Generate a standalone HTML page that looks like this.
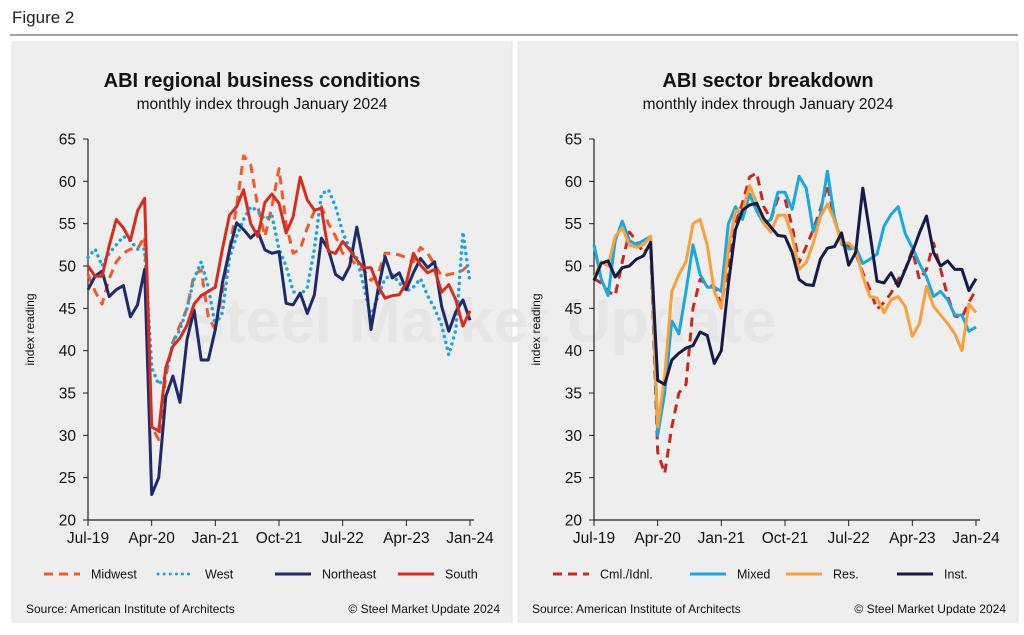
<!DOCTYPE html>
<html><head><meta charset="utf-8">
<style>
html,body{margin:0;padding:0;background:#fff;}
body{width:1024px;height:630px;overflow:hidden;font-family:"Liberation Sans",Arial,sans-serif;}
svg text{font-family:"Liberation Sans",Arial,sans-serif;}
</style></head>
<body>
<svg id="fig" width="1024" height="630" viewBox="0 0 1024 630">
  <text x="12" y="23" font-size="17" fill="#222">Figure 2</text>
  <line x1="10" y1="35" x2="1018" y2="35" stroke="#444" stroke-width="1"/>
  <rect x="12" y="42" width="500" height="580" fill="#eeeeee" stroke="#e4e4e4"/>
  <rect x="518" y="42" width="500" height="580" fill="#eeeeee" stroke="#e4e4e4"/>
  <text x="480" y="342" font-size="62" font-weight="bold" fill="#e6e6e6" text-anchor="middle">Steel Market Update</text>
  <g id="left"></g>
  <g id="right"></g>
</svg>
<script>
const months = ["Jul-19","Apr-20","Jan-21","Oct-21","Jul-22","Apr-23","Jan-24"];
const yTicks = [20,25,30,35,40,45,50,55,60,65];

const midwest = [49,47,45.5,48.5,50.5,51.5,52,52,53.5,31,29.5,37,41,43,45,49,49.5,44,42.5,47,52,57,63,62,57,53.5,57,61.5,55,51.5,52,54.5,56.5,57,55,53.5,51.5,51,50,49.5,48.3,49,51.5,51.5,51.3,51,50.5,52.2,51.5,50.2,48.8,49,49.2,49.5,50.3];
const west = [51,52,50,51.5,52.5,53.5,53,52,52,38,36,37,41,42.5,45,48.5,50.5,47.5,43,44.5,51,53.5,55.5,57,56.5,55.5,56,52,50,47,46.5,47.5,52,58.5,59,57,54,52,51,47.5,44,46.5,48.5,49,48,47,47.5,48.5,46.5,45,43,39.5,42.5,54,48];
const northeast = [47.2,48.8,49.4,46.4,47.2,47.7,44,45.4,49.6,23,25,34.6,37,33.9,41.3,44.8,38.9,38.9,42.5,48,51.9,55.1,54.3,53.3,54.1,51.9,51.5,51.7,45.6,45.4,46.8,44.4,46.6,53.3,51.9,49,48.4,50,54.6,50.3,42.5,47.2,51.1,48.6,49.2,47.2,49.2,50.9,49.8,50.5,45.2,42.3,44.6,46,43.6];
const south = [50,48.8,48.8,52.4,55.5,54.5,53,56.5,58,31,30.5,38,40.5,41.5,43,45.5,46.5,47,47.5,52,56,57,59,55,53.5,57.5,58.5,57.4,53.9,55.8,60.5,57.8,56.6,56.8,51.7,51.5,52.9,51.9,50.7,49.8,49.8,47.6,46.2,46.5,46.6,48,51.5,50.1,49.2,49.6,46.9,47.8,46,42.9,44.7];

const cml = [48.5,48,47,46.5,50.5,54,53,51.5,52.5,28,25.5,31,35,36,45,48.4,47.8,47.5,45.5,50,55,57.5,60.5,61,57,55.5,58,57.9,54.7,50.4,52.3,54.3,56.7,59.6,55.4,53.1,52.3,51.5,49.2,47.2,44.9,45.7,46.8,48.4,49.6,51.9,48.4,49.6,52.7,49.6,46.4,44.1,43.9,45.7,47.2];
const mixed = [52.5,48.5,46.5,53,55.3,53,52.5,53,53.5,30,35,43.5,42,47,52.5,49,47.5,47.5,47,55,57,55.5,58.5,56.5,55,55.5,58.7,58.7,56.7,60.6,59.2,54.1,56,61.2,55.7,52.6,52,52.2,50.3,50.8,51.4,54.7,56.1,57,53.8,52.2,50.3,48.7,46.4,47,46,44.2,44.2,42.3,42.8];
const res = [48.5,50.5,50,53.5,54.5,52.5,52.2,52.5,53.5,31,37,47,49,50.5,55,55.5,52.5,47,45,52,56.5,56.5,59.5,57.5,55,54,56,56,53.5,49.6,50.4,52.7,55.8,57.3,55.4,52.7,52.7,51.9,48.8,46.4,46.2,44.5,46,46.4,45.2,41.7,43.2,47.6,45.2,44.2,43.2,42,40,45.5,44.5];
const inst = [48.3,50.3,50.6,48.7,49.8,50,50.8,51.2,52.8,36.5,36,38.9,39.7,40.3,40.6,42.2,41.8,38.5,40,47.9,54.3,56.6,57.2,57.4,55.6,54.6,53.6,53.5,51.6,48.4,47.8,47.7,50.8,52.1,52.3,53.9,50.1,51.6,59.2,53.9,48.2,48,49.2,47.6,49.6,51.6,53.9,55.9,51.6,50,50.6,49.6,49.6,47.1,48.5];

const NS='http://www.w3.org/2000/svg';
function mk(tag, attrs, parent){const e=document.createElementNS(NS,tag);for(const k in attrs)e.setAttribute(k,attrs[k]);parent.appendChild(e);return e;}

function drawChart(g, x0, title, subtitle, series, legendX){
  const pl=x0+76, pr=x0+458, pt=139, pb=520, n=54;
  const xs=i=>pl+(pr-pl)*i/n;
  const ys=v=>pb-(v-20)/45*(pb-pt);
  const cx=x0+250;
  let t=mk('text',{x:cx,y:87,'font-size':20,'font-weight':'bold','text-anchor':'middle',fill:'#111'},g);
  t.textContent=title;
  
  
  t=mk('text',{x:cx,y:109,'font-size':15.5,'text-anchor':'middle',fill:'#111'},g);
  t.textContent=subtitle;
  
  
  t=mk('text',{x:0,y:0,'font-size':12,'text-anchor':'middle',fill:'#111',transform:`translate(${x0+22},${(pt+pb)/2}) rotate(-90)`},g);
  t.textContent='index reading';
  
  
  const ax=mk('g',{},g);
  
  
  mk('line',{x1:pl,y1:pt,x2:pl,y2:pb,stroke:'#222','stroke-width':1.2},ax);
  mk('line',{x1:pl,y1:pb,x2:pr+4,y2:pb,stroke:'#222','stroke-width':1.2},ax);
  yTicks.forEach(v=>{
    mk('line',{x1:pl-5,y1:ys(v),x2:pl,y2:ys(v),stroke:'#222','stroke-width':1},ax);
    const l=mk('text',{x:pl-12,y:ys(v)+5.5,'font-size':15.5,'text-anchor':'end',fill:'#111'},ax);
    l.textContent=v;
    
    
  });
  months.forEach((m,k)=>{
    const x=xs(k*9);
    mk('line',{x1:x,y1:pb,x2:x,y2:pb+6,stroke:'#222','stroke-width':1},ax);
    const l=mk('text',{x:x,y:pb+23,'font-size':15.5,'text-anchor':'middle',fill:'#111'},ax);
    l.textContent=m;
    
    
  });
  series.forEach(s=>{
    const d=s.data.map((v,i)=>(i?'L':'M')+xs(i).toFixed(1)+','+ys(v).toFixed(1)).join(' ');
    const p=mk('path',{d:d,fill:'none',stroke:s.color,'stroke-width':s.w||3,'stroke-linejoin':'round','stroke-linecap':s.dash==='dot'?'round':'butt'},g);
    if(s.dash==='dash')p.setAttribute('stroke-dasharray','9 6');
    if(s.dash==='dot')p.setAttribute('stroke-dasharray','0.1 6');
    
    
  });
  series.forEach((s,k)=>{
    const lx=legendX[k], ly=574;
    const lg=mk('g',{},g);
    
    
    const ln=mk('line',{x1:lx,y1:ly,x2:lx+36,y2:ly,stroke:s.color,'stroke-width':3,'stroke-linecap':s.dash==='dot'?'round':'butt'},lg);
    if(s.dash==='dash')ln.setAttribute('stroke-dasharray','9 6');
    if(s.dash==='dot')ln.setAttribute('stroke-dasharray','0.1 6');
    const tx=mk('text',{x:lx+47,y:ly+4.5,'font-size':12.5,fill:'#111'},lg);
    tx.textContent=s.label;
  });
  t=mk('text',{x:x0+14,y:613,'font-size':12,fill:'#111'},g);
  t.textContent='Source: American Institute of Architects';
  
  
  t=mk('text',{x:x0+488,y:613,'font-size':12,fill:'#111','text-anchor':'end'},g);
  t.textContent='\u00A9 Steel Market Update 2024';
  
  
}

drawChart(document.getElementById('left'),12,'ABI regional business conditions','monthly index through January 2024',[
  {key:'midwest',label:'Midwest',data:midwest,color:'#f05a28',dash:'dash'},
  {key:'west',label:'West',data:west,color:'#1ba6e2',dash:'dot',w:3.5},
  {key:'northeast',label:'Northeast',data:northeast,color:'#1f2a6b'},
  {key:'south',label:'South',data:south,color:'#d42e1e'}
],[44,158,275,398]);

drawChart(document.getElementById('right'),518,'ABI sector breakdown','monthly index through January 2024',[
  {key:'cml-inst',label:'Cml./Idnl.',data:cml,color:'#c8281e',dash:'dash'},
  {key:'mixed',label:'Mixed',data:mixed,color:'#1aa8e0'},
  {key:'res',label:'Res.',data:res,color:'#f8a03a'},
  {key:'inst',label:'Inst.',data:inst,color:'#151b48'}
],[553,690,786,897]);
</script>
</body></html>
